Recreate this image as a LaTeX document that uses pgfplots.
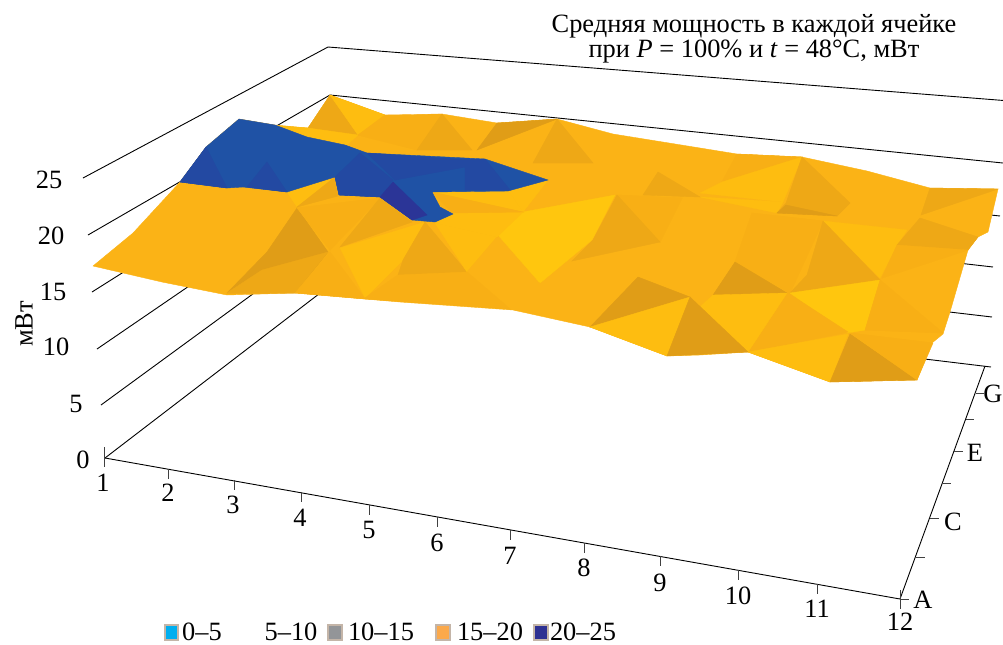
\documentclass[border=0pt]{standalone}
\usepackage{fontspec}
\setmainfont{Liberation Serif}
\usepackage{pgfplots}
\pgfplotsset{compat=1.18}
\definecolor{base}{HTML}{FBB316}
\definecolor{lt}{HTML}{FEBD10}
\definecolor{br}{HTML}{FFC60E}
\definecolor{dk}{HTML}{E09D17}
\definecolor{md}{HTML}{EEA816}
\definecolor{ms}{HTML}{F8AF15}
\definecolor{bl}{HTML}{1F52A5}
\definecolor{bd}{HTML}{2349A2}
\definecolor{bi}{HTML}{2B3597}
\newcommand{\facet}[2]{\addplot[fill=#1,draw=#1,line width=0.2pt,mark=none,forget plot] coordinates {#2} --cycle;}
\newcommand{\wall}[1]{\addplot[black,line width=0.45pt,mark=none,forget plot] coordinates {#1};}
\newcommand{\tck}[1]{\addplot[black!75,line width=0.45pt,mark=none,forget plot] coordinates {#1};}
\newcommand{\lab}[2]{\node[inner sep=0pt,font=\fontsize{13.2}{14}\selectfont] at (axis cs:#1) {#2};}
\begin{document}
\begin{tikzpicture}
\clip (0,0) rectangle (501.5pt,322pt);
\begin{axis}[
  at={(0,0)},anchor=south west,
  scale only axis,width=501.5pt,height=322pt,
  xmin=0,xmax=1003,ymin=0,ymax=644,y dir=reverse,
  axis lines=none,clip=false]
% walls
\wall{(83,178) (328,47) (1010,101)}
\wall{(88,235) (330,95) (1003,163)}
\wall{(92,292) (328,143) (1000,216)}
\wall{(97,349) (328,191) (993,267)}
\wall{(101,405) (328,239) (992,317)}
\wall{(105,458) (328,287) (991,367)}
% floor edges and ticks
\wall{(105,458) (900,599) (985,366)}
\tck{(900,599) (909,599)}
\tck{(900,590) (900,609)}
\tck{(916,557) (925,557)}
\tck{(930,518) (939,518)}
\tck{(942,483) (951,483)}
\tck{(954,451) (963,451)}
\tck{(966,419) (974,419)}
\tck{(976,393) (984,393)}
\tck{(104,447) (104,467)}
\tck{(168,469) (168,479)}
\tck{(234,480) (234,490)}
\tck{(301,492) (301,502)}
\tck{(369,505) (369,515)}
\tck{(437,517) (437,527)}
\tck{(510,530) (510,540)}
\tck{(584,543) (584,553)}
\tck{(660,556) (660,566)}
\tck{(738,570) (738,580)}
\tck{(817,584) (817,594)}
% surface outline
\facet{base}{(330,95) (385,115) (400,116) (442,114) (497,123) (557,119) (613,134) (700,148) (737,154) (802,157) (867,171) (930,188) (998,189) (988,232) (978,237) (968,250) (950,312) (943,334) (932,343) (917,380) (830,382) (748,352) (700,355) (667,356) (590,327) (513,310) (400,302) (365,299) (295,293) (227,295) (162,282) (93,266) (133,233) (180,182) (206,147) (239,119) (275,125) (308,128)}
% back strip
\facet{md}{(308,128) (330,95) (358,135)}
\facet{lt}{(330,95) (385,115) (358,135)}
\facet{lt}{(280,126) (308,128) (358,135) (347,145) (307,137)}
\facet{ms}{(385,115) (442,114) (417,150) (358,135)}
\facet{md}{(442,114) (472,150) (417,150)}
\facet{dk}{(497,123) (557,119) (477,150)}
\facet{md}{(557,119) (593,163) (533,163)}
\facet{ms}{(737,154) (802,157) (722,182)}
\facet{lt}{(802,157) (722,182) (700,193) (783,202)}
\facet{lt}{(700,197) (783,202) (777,213)}
\facet{md}{(802,157) (850,203) (837,216) (777,213) (786,203)}
\facet{dk}{(786,205) (837,216) (777,213)}
\facet{md}{(930,188) (998,189) (921,215)}
\facet{md}{(658,172) (700,197) (643,195)}
% middle rows
\facet{br}{(615,195) (592,240) (540,283) (498,235) (523,212)}
\facet{ms}{(617,195) (682,198) (660,242)}
\facet{md}{(617,195) (660,242) (572,261) (593,240)}
\facet{ms}{(752,213) (823,221) (790,293) (735,262)}
\facet{lt}{(823,221) (907,230) (897,245) (880,278)}
\facet{md}{(823,221) (880,280) (790,293) (807,275)}
\facet{md}{(920,218) (978,237) (968,250) (897,245)}
\facet{ms}{(897,245) (968,250) (882,278)}
\facet{dk}{(735,262) (787,293) (713,295)}
\facet{br}{(790,293) (880,280) (865,330) (847,333)}
\facet{ms}{(880,280) (943,333) (865,330)}
\facet{ms}{(788,293) (848,332) (748,352)}
\facet{lt}{(748,352) (848,334) (830,382)}
\facet{dk}{(850,334) (917,380) (830,382)}
\facet{ms}{(850,333) (933,343) (917,380)}
\facet{lt}{(713,295) (787,293) (748,352) (700,307)}
\facet{dk}{(638,277) (690,297) (590,327)}
\facet{lt}{(690,297) (590,327) (667,356)}
\facet{dk}{(690,297) (748,352) (667,356)}
% left front
\facet{dk}{(297,208) (267,252) (227,293) (295,293) (328,252)}
\facet{md}{(262,270) (328,252) (295,293) (227,293)}
\facet{ms}{(297,208) (380,198) (330,250)}
\facet{md}{(380,198) (412,222) (340,247)}
\facet{ms}{(330,252) (365,299) (295,293)}
\facet{lt}{(340,248) (425,222) (403,260) (365,298)}
\facet{lt}{(287,192) (335,177) (297,207)}
\facet{md}{(335,177) (338,196) (297,207)}
\facet{md}{(425,222) (467,272) (398,275) (403,260)}
\facet{ms}{(398,275) (467,272) (365,298)}
\facet{ms}{(467,272) (365,299) (510,309)}
\facet{lt}{(435,223) (467,272) (497,237)}
\facet{base}{(497,237) (467,272) (540,283) (510,309)}
\facet{lt}{(435,223) (453,213) (523,212) (497,237)}
\facet{lt}{(432,192) (523,212) (508,190)}
\facet{lt}{(548,180) (523,212) (508,190)}
\facet{ms}{(432,192) (453,213) (523,212)}
% blue band
\facet{bl}{(239,119) (275,125) (307,137) (345,145) (367,153) (485,159) (548,180) (508,191) (432,192) (440,207) (453,214) (435,222) (412,220) (380,197) (339,195) (335,177) (287,192) (243,187) (227,188) (180,182) (206,147)}
\facet{bd}{(206,147) (180,182) (227,188)}
\facet{bd}{(267,162) (247,187) (287,192)}
\facet{bd}{(360,153) (335,177) (339,195) (380,197) (393,180)}
\facet{bd}{(367,153) (465,160) (465,167) (395,180)}
\facet{bd}{(465,160) (485,159) (510,190) (465,190)}
\facet{bi}{(393,182) (380,197) (412,220) (427,215)}
% labels
\lab{49,180}{25}
\lab{51,236}{20}
\lab{53,292}{15}
\lab{56,347}{10}
\lab{76,404}{5}
\lab{83,460}{0}
\node[inner sep=0pt,rotate=90,font=\fontsize{13.2}{14}\selectfont] at (axis cs:24,324) {мВт};
\lab{103,483}{1}
\lab{168,493}{2}
\lab{233,505}{3}
\lab{300,518}{4}
\lab{369,530}{5}
\lab{437,543}{6}
\lab{510,556}{7}
\lab{584,568}{8}
\lab{660,583}{9}
\lab{738,596}{10}
\lab{817,609}{11}
\lab{900,622}{12}
\lab{923,600}{A}
\lab{953,522}{C}
\lab{975,453}{E}
\lab{993,394}{G}
\lab{754,26}{Средняя мощность в каждой ячейке}
\lab{754,52}{при \textit{P} = 100\% и \textit{t} = 48°C, мВт}
% legend
\definecolor{lgc}{HTML}{00AEEF}\definecolor{lgg}{HTML}{939598}\definecolor{lgo}{HTML}{FBA94B}\definecolor{lgn}{HTML}{2E3192}\definecolor{lgb}{HTML}{C4B5A8}
\addplot[fill=lgc,draw=lgb,line width=0.6pt,forget plot] coordinates {(165,625) (178,625) (178,640) (165,640)} --cycle;
\addplot[fill=lgg,draw=lgb,line width=0.6pt,forget plot] coordinates {(328,625) (342,625) (342,640) (328,640)} --cycle;
\addplot[fill=lgo,draw=lgb,line width=0.6pt,forget plot] coordinates {(436,625) (450,625) (450,640) (436,640)} --cycle;
\addplot[fill=lgn,draw=lgb,line width=0.6pt,forget plot] coordinates {(534,625) (548,625) (548,640) (534,640)} --cycle;
\lab{202,632}{0–5}
\lab{291,632}{5–10}
\lab{381,632}{10–15}
\lab{490,632}{15–20}
\lab{583,632}{20–25}
\end{axis}
\end{tikzpicture}
\end{document}
